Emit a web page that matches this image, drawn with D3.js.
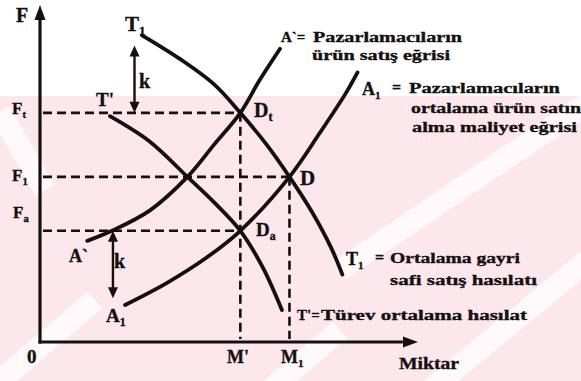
<!DOCTYPE html>
<html>
<head>
<meta charset="utf-8">
<script src="https://cdn.jsdelivr.net/npm/d3@7"></script>
<style>
  body { margin: 0; background: #fff; }
  text { font-family: "Liberation Serif", "Times New Roman", serif; font-weight: bold; fill: #141010;
         stroke: #141010; stroke-width: 0.35px; }
</style>
</head>
<body>
<div id="chart"></div>
<script>
// Miktar (x) / F (y) in arbitrary units
const xMprime = 53, xM1 = 66;        // M', M1
const yFt = 68, yF1 = 49, yFa = 33;  // Ft, F1, Fa
const kShift = 20;

const curveT1 = [[27, 91], [37, 84], [46, 76.5], [53, 68], [60, 58.5], [66, 49], [72, 38.5], [77, 28], [80, 20]];
const curveTp = [[18.5, 67], [29, 59.5], [39, 49], [46, 41.5], [53, 33], [59, 22], [64, 9.5]];
const curveAp = [[12.5, 30], [19, 33], [29, 39], [39, 49], [46, 58.5], [53, 68], [58, 77.5], [63.5, 87]];
const curveA1 = [[22.5, 11], [33.5, 17.5], [44, 25], [53, 33], [66, 49], [74, 62], [81, 74], [84, 80]];

const kArrowX = [25, 19.3]; // top arrow (T1 -> T'), bottom arrow (A' -> A1)

const noteLines = [
  "Pazarlamacıların", "ürün satış eğrisi",
  "Pazarlamacıların", "ortalama ürün satın", "alma maliyet eğrisi",
  "Ortalama gayri", "safi satış hasılatı",
  "Türev ortalama hasılat"
];

const width = 581, height = 381;
const ink = "#141010";

const svg = d3.select("#chart").append("svg")
  .attr("width", width).attr("height", height);

// watermark background
const bg = svg.append("g");
bg.append("clipPath").attr("id", "wm").append("rect")
  .attr("x", 0).attr("y", 96).attr("width", width).attr("height", height - 96);
bg.append("rect").attr("x", 0).attr("y", 96).attr("width", width).attr("height", height - 96)
  .attr("fill", "#fce8ec");
const bands = [
  [[0, 112], [45, 190]],
  [[0, 381], [95, 300]],
  [[340, 270], [600, 95]],
  [[430, 390], [600, 250]],
  [[270, 390], [340, 330]]
];
bg.append("g").attr("clip-path", "url(#wm)")
  .selectAll("line").data(bands).join("line")
  .attr("x1", d => d[0][0]).attr("y1", d => d[0][1])
  .attr("x2", d => d[1][0]).attr("y2", d => d[1][1])
  .attr("stroke", "#fff").attr("stroke-width", 22).attr("opacity", 0.8);

const x = d3.scaleLinear().domain([0, 100]).range([40, 418]);
const y = d3.scaleLinear().domain([0, 100]).range([342, 5]);

const g = svg.append("g");

// axes
g.append("line").attr("x1", x(0)).attr("y1", y(0) + 1.5).attr("x2", x(0)).attr("y2", y(96))
  .attr("stroke", ink).attr("stroke-width", 3.2);
g.append("line").attr("x1", x(0) - 1.5).attr("y1", y(0)).attr("x2", x(96)).attr("y2", y(0))
  .attr("stroke", ink).attr("stroke-width", 3.2);
g.append("path")
  .attr("d", `M${x(0)},${y(100)} L${x(0) - 5.5},${y(100) + 15} L${x(0) + 5.5},${y(100) + 15}Z`)
  .attr("fill", ink);
g.append("path")
  .attr("d", `M${x(100)},${y(0)} L${x(100) - 15},${y(0) - 5.5} L${x(100) - 15},${y(0) + 5.5}Z`)
  .attr("fill", ink);

// dashed guides
const dashed = [
  [[0, yFt], [xMprime, yFt]],
  [[0, yF1], [xM1, yF1]],
  [[0, yFa], [xMprime, yFa]],
  [[xMprime, yFt], [xMprime, 0]],
  [[xM1, yF1], [xM1, 0]]
];
g.selectAll(".guide").data(dashed).join("line").attr("class", "guide")
  .attr("x1", d => x(d[0][0]) + (d[0][0] === 0 ? 3 : 0)).attr("y1", d => y(d[0][1]))
  .attr("x2", d => x(d[1][0])).attr("y2", d => y(d[1][1]) - (d[1][1] === 0 ? 3 : 0))
  .attr("stroke", ink).attr("stroke-width", 2.6).attr("stroke-dasharray", "9,5");

// curves
const line = d3.line().curve(d3.curveCatmullRom.alpha(0.5))
  .x(d => x(d[0])).y(d => y(d[1]));
g.selectAll(".curve").data([curveT1, curveTp, curveAp, curveA1]).join("path")
  .attr("class", "curve")
  .attr("d", line)
  .attr("fill", "none").attr("stroke", ink).attr("stroke-width", 3.8)
  .attr("stroke-linecap", "round");

// k arrows
const kArrows = [[kArrowX[0], yFt + kShift, yFt], [kArrowX[1], yFa, yFa - kShift]];
kArrows.forEach(([ax, top, bot]) => {
  const px = x(ax), y1 = y(top), y2 = y(bot);
  g.append("line").attr("x1", px).attr("y1", y1 + 8).attr("x2", px).attr("y2", y2 - 8)
    .attr("stroke", ink).attr("stroke-width", 2.4);
  g.append("path").attr("d", `M${px},${y1} L${px - 5},${y1 + 11} L${px + 5},${y1 + 11}Z`).attr("fill", ink);
  g.append("path").attr("d", `M${px},${y2} L${px - 5},${y2 - 11} L${px + 5},${y2 - 11}Z`).attr("fill", ink);
});

// labels
function label(tx, ty, main, sub, size, subSize) {
  const t = g.append("text").attr("x", tx).attr("y", ty).style("font-size", size + "px").text(main);
  if (sub) t.append("tspan").attr("dy", 4).style("font-size", (subSize || size * 0.62) + "px").text(sub);
  return t;
}
label(16, 22, "F", null, 20);
label(12, y(yFt) + 1, "F", "t", 17);
label(12, y(yF1) + 4, "F", "1", 17);
label(13, y(yFa) - 13, "F", "a", 17);
label(27, 363, "0", null, 19);
label(227, 363, "M'", null, 18);
label(281, 363, "M", "1", 18);
label(399, 369, "Miktar", null, 16).attr("textLength", 60).attr("lengthAdjust", "spacingAndGlyphs");
label(125, 31, "T", "1", 21);
label(96, 106, "T'", null, 19);
label(254, 117, "D", "t", 20);
label(300, 185, "D", null, 21);
label(256, 236, "D", "a", 19);
label(69, 262, "A`", null, 18);
label(106, 322, "A", "1", 19);
label(139, 88, "k", null, 20);
label(114, 268, "k", null, 20);

// notes on the right
function note(tx, ty, str, len, size) {
  return g.append("text").attr("x", tx).attr("y", ty).style("font-size", (size || 15) + "px")
    .attr("textLength", len).attr("lengthAdjust", "spacingAndGlyphs").text(str);
}
label(281, 42, "A`=", null, 15);
note(313, 42, noteLines[0], 149);
note(312, 60, noteLines[1], 138);
label(362, 95, "A", "1", 18);
label(392, 93, "=", null, 16);
note(409, 93, noteLines[2], 151);
note(411, 113, noteLines[3], 170);
note(412, 132, noteLines[4], 165);
label(346, 265, "T", "1", 18);
label(375, 263, "=", null, 16);
note(390, 263, noteLines[5], 130);
note(390, 285, noteLines[6], 147);
label(297, 320, "T'=", null, 15);
note(321, 320, noteLines[7], 206);
</script>
</body>
</html>
